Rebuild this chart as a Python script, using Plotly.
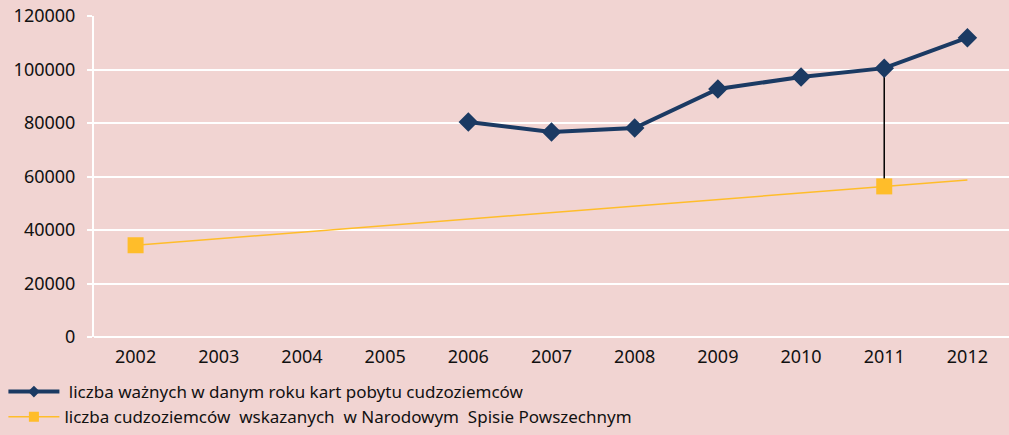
import plotly.graph_objects as go

years = ["2002", "2003", "2004", "2005", "2006", "2007", "2008", "2009", "2010", "2011", "2012"]

# karty pobytu (2006-2012)
card_years = ["2006", "2007", "2008", "2009", "2010", "2011", "2012"]
card_values = [80400, 76600, 78100, 92700, 97200, 100500, 111900]

# spis powszechny (2002, 2011)
census_years = ["2002", "2011"]
census_values = [34300, 56300]

# linia trendu spisu
trend_years = ["2002", "2012"]
trend_values = [34300, 58700]

card_name = " liczba ważnych w danym roku kart pobytu cudzoziemców"
census_name = "liczba cudzoziemców  wskazanych  w Narodowym  Spisie Powszechnym"

bg = "#f1d4d2"
blue = "#1b3a63"
yellow = "#ffbd2a"

fig = go.Figure()

fig.add_trace(go.Scatter(
    x=trend_years, y=trend_values, mode="lines",
    line=dict(color=yellow, width=1.5),
    showlegend=False, hoverinfo="skip"))

fig.add_trace(go.Scatter(
    x=["2011", "2011"], y=[card_values[5], census_values[1]], mode="lines",
    line=dict(color="black", width=1.5),
    showlegend=False, hoverinfo="skip"))

fig.add_trace(go.Scatter(
    x=card_years, y=card_values, mode="lines+markers", name=card_name,
    line=dict(color=blue, width=4),
    marker=dict(symbol="diamond", size=15, color=blue),
    showlegend=False))

fig.add_trace(go.Scatter(
    x=census_years, y=census_values, mode="markers", name=census_name,
    marker=dict(symbol="square", size=16, color=yellow),
    showlegend=False))

# legenda (mniejsze znaczniki jak w oryginale)
fig.add_trace(go.Scatter(
    x=[None], y=[None], mode="lines+markers", name=card_name,
    line=dict(color=blue, width=4),
    marker=dict(symbol="diamond", size=9, color=blue)))
fig.add_trace(go.Scatter(
    x=[None], y=[None], mode="lines+markers", name=census_name,
    line=dict(color=yellow, width=1.5),
    marker=dict(symbol="square", size=10, color=yellow)))

fig.update_layout(
    width=1009, height=435,
    margin=dict(l=94, r=0, t=16, b=98),
    paper_bgcolor=bg, plot_bgcolor=bg,
    font=dict(family="Noto Sans", size=18, color="#111111"),
    legend=dict(
        orientation="v", x=-0.099, xanchor="left", y=-0.117, yanchor="top",
        font=dict(size=17), bgcolor="rgba(0,0,0,0)",
        tracegroupgap=0, itemwidth=51),
    xaxis=dict(
        type="category", categoryorder="array", categoryarray=years,
        range=[-0.5, 10.5], showgrid=False, showline=False, zeroline=False,
        ticks="", tickfont=dict(size=18), ticklabelstandoff=7),
    yaxis=dict(
        range=[0, 120000], dtick=20000, tickformat="d",
        showgrid=True, gridcolor="white", gridwidth=2,
        showline=True, linecolor="white", linewidth=2,
        zeroline=True, zerolinecolor="white", zerolinewidth=2,
        ticks="outside", ticklen=5, tickcolor="white", tickwidth=2,
        tickfont=dict(size=18), ticklabelstandoff=8),
)

page_fix = (
    "document.documentElement.style.margin='0';"
    "document.documentElement.style.overflow='hidden';"
    "document.body.style.margin='0';"
    "document.body.style.overflow='hidden';"
    "document.body.style.height='435px';"
)

fig.write_html("out.html", config={"displayModeBar": False}, post_script=page_fix)
